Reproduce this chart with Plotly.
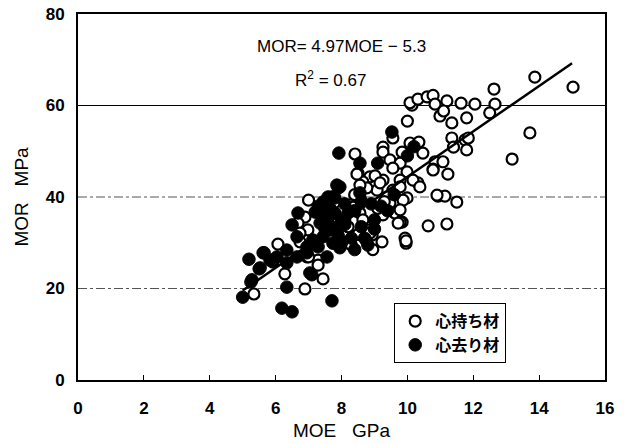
import plotly.graph_objects as go

# 心持ち材 (open circles)
moe_open = [12.63, 15.03, 13.87, 10.14, 10.08, 10.32, 10.6, 10.78, 10.84, 11.2, 11.63, 12.05, 12.66,
            12.5, 10.99, 11.1, 10.0, 11.35, 11.8, 13.72, 11.35, 11.4, 11.75, 11.8, 11.85, 13.18, 10.84,
            11.08, 10.78, 11.23, 10.93, 11.14, 11.5, 10.63, 11.2, 10.32, 9.93, 9.84, 9.96, 7.44, 6.89,
            9.56, 9.26, 9.26, 8.41, 8.5, 9.47, 10.08, 10.35, 10.47, 9.84, 9.78, 9.56, 9.99, 10.17, 9.78,
            9.26, 8.86, 8.65, 10.78, 10.9, 10.38, 9.08, 9.56, 9.99, 8.56, 8.26,
            9.02, 8.77, 9.78, 9.38, 9.87, 9.26, 8.56, 8.65, 8.35, 6.95, 7.29, 6.89, 6.98, 8.93, 9.62,
            9.78, 8.77, 9.23, 9.96, 8.56, 9.17, 8.47,
            6.07, 6.28, 5.34, 5.92, 7.0, 6.68, 6.74, 7.0, 7.29, 5.92, 6.74, 7.35, 8.86, 9.72, 9.78, 9.47,
            8.05, 8.3, 8.5, 8.1, 8.75, 8.95, 8.2, 8.4, 9.1, 9.3, 8.0, 7.85]
mor_open = [63.6, 64.0, 66.2, 60.1, 60.6, 61.4, 61.9, 62.2, 60.3, 61.0, 60.5, 60.3, 60.3,
            58.4, 57.7, 58.8, 56.6, 56.2, 57.3, 54.0, 52.9, 50.9, 52.5, 50.3, 52.9, 48.3, 47.7,
            47.7, 46.1, 45.0, 40.2, 40.2, 38.9, 33.7, 34.1, 43.1, 31.0, 34.5, 29.9, 22.1, 19.9,
            52.9, 50.9, 49.8, 49.4, 45.2, 48.1, 51.8, 52.0, 49.6, 49.8, 47.4, 46.3, 45.5, 43.7, 43.7,
            43.7, 44.4, 43.3, 45.9, 40.4, 42.2, 41.5, 41.5, 39.8, 40.0, 38.3,
            44.6, 42.0, 42.2, 40.0, 39.3, 36.1, 36.5, 35.0, 37.8, 26.9, 26.2, 35.6, 32.8, 31.7, 36.5,
            34.5, 32.8, 30.2, 30.4, 42.6, 43.1, 45.0,
            29.7, 23.2, 18.8, 25.8, 26.9, 34.3, 32.1, 39.3, 25.1, 26.2, 30.2, 37.2, 32.1, 34.3, 37.2, 38.7,
            32.3, 29.5, 31.8, 35.0, 30.5, 28.5, 33.5, 40.5, 37.5, 39.0, 37.0, 30.0]

# 心去り材 (filled circles)
moe_fill = [5.19, 5.65, 5.5, 5.25, 5.0, 6.19, 6.5, 6.34, 7.1, 7.71, 6.04, 6.34, 6.65, 7.29, 7.56, 6.95,
            7.92, 9.53, 9.1, 8.56, 7.9, 7.8, 7.86, 7.71, 7.44,
            7.59, 7.2, 7.35, 7.65, 7.44, 7.74, 7.95, 7.13, 6.95, 6.65, 6.5, 6.68, 5.62, 5.83, 6.34, 7.04,
            5.28, 5.53,
            7.6, 7.8, 8.0, 7.7, 7.9, 8.1, 7.5, 7.65, 8.2, 7.9, 8.0, 8.3, 8.4, 8.6, 8.8, 9.0, 8.9, 9.2,
            9.4, 8.6, 8.4, 7.4, 7.3, 8.1, 9.6, 9.0, 8.7, 10.2, 10.0, 8.56, 7.95]
mor_fill = [26.4, 27.8, 24.3, 21.4, 18.1, 15.7, 14.9, 20.3, 23.0, 17.3, 26.9, 28.4, 26.9, 29.1, 26.9, 27.8,
            49.6, 54.2, 47.4, 47.4, 42.0, 39.8, 42.6, 40.0, 38.9,
            40.0, 36.7, 34.3, 32.8, 31.3, 29.9, 28.9, 30.6, 29.1, 31.3, 33.9, 36.5, 27.8, 26.2, 25.6, 23.4,
            21.9, 24.5,
            35.5, 36.5, 35.0, 33.5, 33.0, 34.0, 33.0, 37.5, 36.5, 31.5, 30.0, 31.0, 28.5, 33.5, 29.5, 35.0,
            38.5, 38.0, 37.0, 39.0, 37.0, 36.0, 38.0, 38.5, 40.5, 33.0, 31.0, 51.0, 49.0, 40.9, 42.2]

# regression: MOR = 4.97 MOE - 5.3 over MOE 5..15
slope, intercept = 4.97, -5.3
fit_x = [5.0, 15.0]
fit_y = [slope * v + intercept for v in fit_x]

# reference lines
dashdot_levels = [20, 40]
solid_levels = [60]

font_family = "Liberation Sans, Arial, sans-serif"

fig = go.Figure()
fig.add_trace(go.Scatter(x=moe_open, y=mor_open, mode="markers", name="心持ち材",
                         marker=dict(symbol="circle", size=11, color="white",
                                     line=dict(color="black", width=2.2))))
fig.add_trace(go.Scatter(x=moe_fill, y=mor_fill, mode="markers", name="心去り材",
                         marker=dict(symbol="circle", size=12.5, color="black",
                                     line=dict(color="black", width=1))))
fig.add_trace(go.Scatter(x=fit_x, y=fit_y, mode="lines", showlegend=False,
                         line=dict(color="black", width=2.5)))

for lv in dashdot_levels:
    fig.add_hline(y=lv, line=dict(color="#555555", width=1, dash="dashdot"), layer="below")
for lv in solid_levels:
    fig.add_hline(y=lv, line=dict(color="black", width=1.2), layer="below")

fig.add_annotation(x=0.5, y=0.91, xref="paper", yref="paper", yanchor="middle",
                   text="MOR= 4.97MOE − 5.3", showarrow=False,
                   font=dict(size=17, color="black", family=font_family))
fig.add_annotation(x=0.48, y=0.822, xref="paper", yref="paper", yanchor="middle",
                   text="R<sup>2</sup> = 0.67", showarrow=False,
                   font=dict(size=17, color="black", family=font_family))

fig.update_layout(
    width=631, height=444,
    margin=dict(l=78, r=26, t=14, b=64),
    paper_bgcolor="white", plot_bgcolor="white",
    font=dict(family=font_family, color="black"),
    legend=dict(x=0.6, y=0.21, xanchor="left", yanchor="top",
                bordercolor="black", borderwidth=1, bgcolor="white",
                font=dict(size=16, family="Noto Sans CJK JP", color="black", weight="bold"),
                itemwidth=30, tracegroupgap=0),
    xaxis=dict(range=[0, 16], dtick=2, showline=True, linecolor="black", linewidth=2,
               mirror=True, ticks="inside", ticklen=5, tickcolor="black", automargin=False,
               showgrid=False, zeroline=False, ticklabelstandoff=12,
               tickfont=dict(size=17, family=font_family, weight="bold"),
               title=dict(text="MOE   GPa", font=dict(size=19), standoff=6)),
    yaxis=dict(range=[0, 80], dtick=20, showline=True, linecolor="black", linewidth=2,
               mirror=True, ticks="", showgrid=False, zeroline=False,
               ticklabelstandoff=8, automargin=False,
               tickfont=dict(size=17, family=font_family, weight="bold"),
               title=dict(text="MOR   MPa", font=dict(size=19), standoff=12)),
)

fig.write_html("out.html")
